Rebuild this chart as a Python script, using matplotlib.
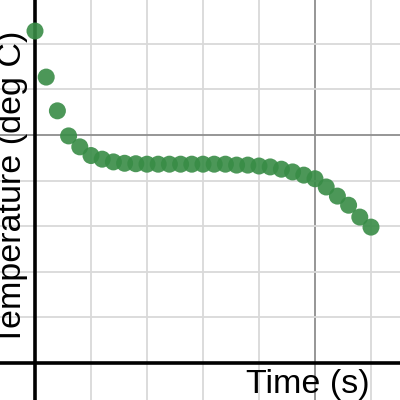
import matplotlib
matplotlib.use("Agg")
import matplotlib.pyplot as plt
from matplotlib.ticker import MultipleLocator

# Data
time_s = [0, 20, 40, 60, 80, 100, 120, 140, 160, 180, 200, 220, 240, 260, 280,
          300, 320, 340, 360, 380, 400, 420, 440, 460, 480, 500, 520, 540, 560,
          580, 600]
temperature_c = [72.8, 62.7, 55.3, 49.8, 47.4, 45.5, 44.7, 44.1, 43.8, 43.7,
                 43.6, 43.6, 43.6, 43.6, 43.6, 43.6, 43.6, 43.6, 43.4, 43.4,
                 43.2, 43.0, 42.5, 41.9, 41.2, 40.4, 38.6, 36.6, 34.6, 32.0,
                 29.8]
x_label = "Time (s)"
y_label = "Temperature (deg C)"

plt.rcParams['font.family'] = ['Liberation Sans', 'DejaVu Sans']

fig = plt.figure(figsize=(4, 4), dpi=100)
ax = fig.add_axes([0, 0, 1, 1])

ax.set_xlim(-35 / 56 * 100, 365 / 56 * 100)
ax.set_ylim(-37 / 45.6 * 10, 363 / 45.6 * 10)

ax.xaxis.set_major_locator(MultipleLocator(500))
ax.xaxis.set_minor_locator(MultipleLocator(100))
ax.yaxis.set_major_locator(MultipleLocator(50))
ax.yaxis.set_minor_locator(MultipleLocator(10))
ax.grid(which='minor', color='#d9d9d9', lw=1.3, zorder=0)
ax.grid(which='major', color='#8e8e8e', lw=1.3, zorder=0)
ax.tick_params(which='both', length=0, labelbottom=False, labelleft=False)
for s in ax.spines.values():
    s.set_visible(False)
ax.set_axisbelow(True)

ax.axhline(0, color='black', lw=2.6, zorder=1)
ax.axvline(0, color='black', lw=2.6, zorder=1)

ax.scatter(time_s, temperature_c, s=150, color='#388c46', alpha=0.9,
           edgecolors='none', zorder=3)

fig.text(370 / 400, 7 / 400, x_label, ha='right', va='baseline',
         fontsize=24.5, color='black')
fig.text(21.5 / 400, 55 / 400, y_label, ha='left', va='baseline',
         rotation=90, rotation_mode='anchor', fontsize=24.5, color='black')

fig.savefig("out.png", dpi=100)
